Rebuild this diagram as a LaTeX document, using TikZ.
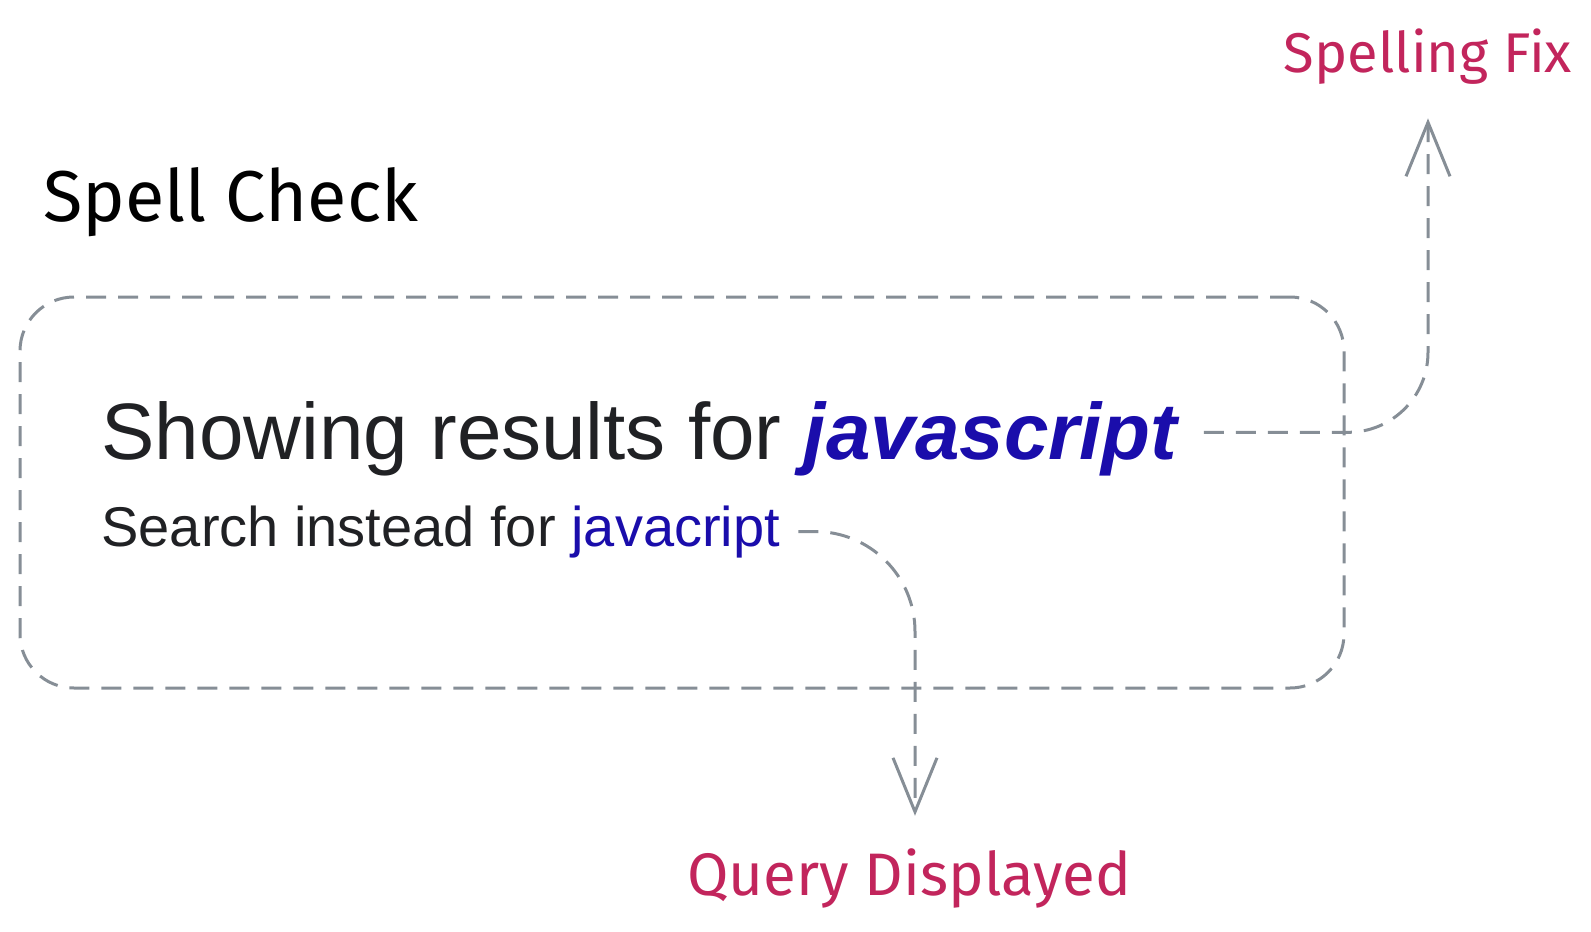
\documentclass[tikz,border=0pt]{standalone}
\usepackage{fontspec}
\setmainfont{Liberation Sans}
\newfontfamily\handfont{Fira Sans}
\usetikzlibrary{arrows.meta}
\definecolor{linegray}{HTML}{868E96}
\definecolor{notered}{HTML}{C2255C}
\definecolor{linkblue}{HTML}{1A0DAB}
\definecolor{textdark}{HTML}{202124}

\begin{document}
\begin{tikzpicture}[x=0.5pt, y=-0.5pt,
  frame/.style={draw=linegray, line width=1.5pt, dash pattern=on 10pt off 6pt, rounded corners=27pt, minimum width=662pt, minimum height=195.5pt},
  hand/.style={font=\handfont\fontsize{#1}{#1}\selectfont, inner sep=0pt},
  shot/.style={font=\fontsize{#1}{#1}\selectfont, text=textdark, inner sep=0pt, anchor=base west},
  arr/.style={draw=linegray, line width=1.5pt, dash pattern=on 10pt off 6pt, rounded corners=#1, -{Straight Barb[length=27pt, width=22pt, line width=1.5pt]}}]
\useasboundingbox (0,0) rectangle (1591,932);
\node[hand=36pt, anchor=base west] (title) at (43,221) {Spell Check};
\node[frame] (result) at (682,492.5) {};
\node[shot=40pt] (showing) at (101,459) {Showing results for \textcolor{linkblue}{\bfseries\itshape javascript}};
\node[shot=28pt] (instead) at (101,546) {Search instead for \textcolor{linkblue}{javacript}};
\node[hand=28pt, text=notered, anchor=base] (fix) at (1428,72) {Spelling Fix};
\node[hand=30pt, text=notered, anchor=base] (query) at (909,895) {Query Displayed};
\draw[arr=40pt, shorten <=13pt, shorten >=17pt] ([yshift=3pt]showing.east) -| (fix.south);
\draw[arr=50pt, shorten <=9pt, shorten >=16pt] (instead.east) -| ([xshift=3pt]query.north);
\end{tikzpicture}
\end{document}
